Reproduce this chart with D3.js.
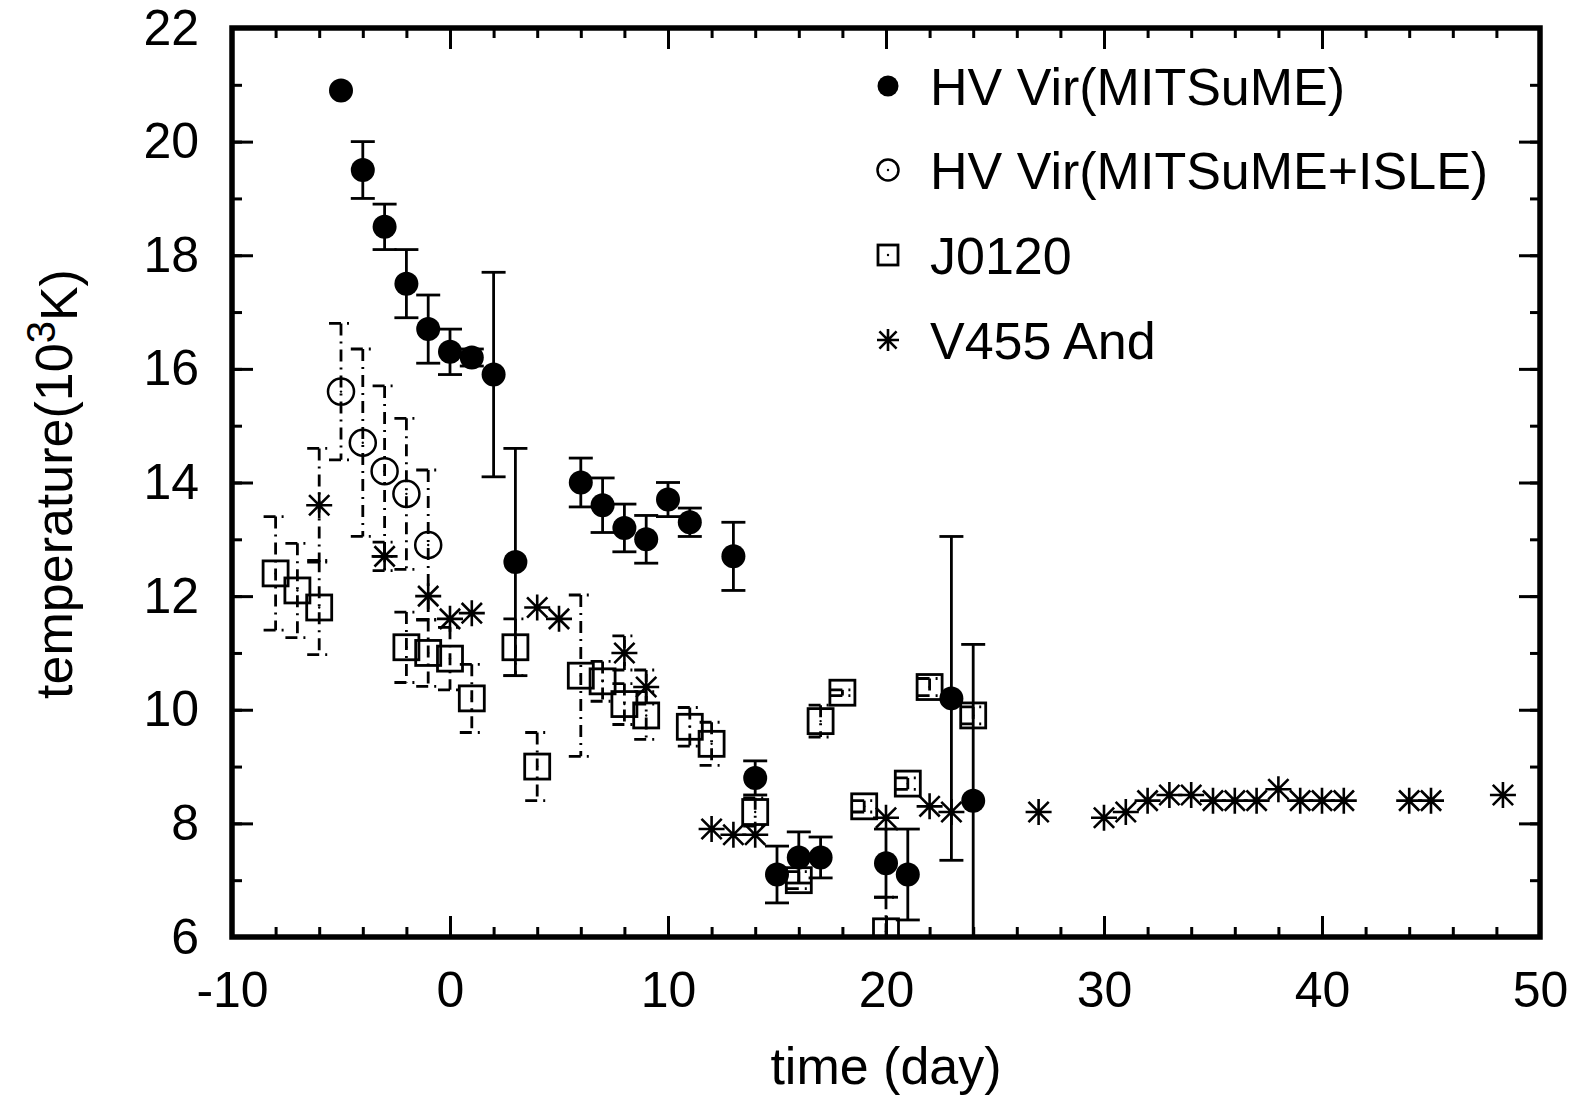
<!DOCTYPE html>
<html>
<head>
<meta charset="utf-8">
<script src="https://cdn.jsdelivr.net/npm/d3@7"></script>
<style>
  html, body { margin: 0; padding: 0; background: #fff; }
  svg { display: block; }
  text { font-family: "Liberation Sans", Arial, Helvetica, sans-serif; fill: #000; }
</style>
</head>
<body>
<svg id="chart" width="1589" height="1098"></svg>
<script>
// HV Vir, MITSuME photometry (filled circles)
const hvDay  = [-5, -4, -3, -2, -1, 0, 1, 2, 3, 6, 7, 8, 9, 10, 11, 13, 14, 15, 16, 17, 20, 21, 23, 24];
const hvTemp = [20.9, 19.5, 18.5, 17.5, 16.7, 16.3, 16.2, 15.9, 12.6, 14.0, 13.6, 13.2, 13.0, 13.7, 13.3, 12.7, 8.8, 7.1, 7.4, 7.4, 7.3, 7.1, 10.2, 8.4];
const hvErr  = [0, 0.5, 0.4, 0.6, 0.6, 0.4, 0.15, 1.8, 2.0, 0.43, 0.48, 0.42, 0.42, 0.3, 0.25, 0.6, 0.3, 0.5, 0.45, 0.36, 0.6, 0.8, 2.85, 2.75];

// HV Vir, MITSuME + ISLE (open circles)
const isleDay  = [-5, -4, -3, -2, -1];
const isleTemp = [15.6, 14.7, 14.2, 13.8, 12.9];
const isleErr  = [1.2, 1.65, 1.5, 1.33, 1.32];

// J0120 (open squares)
const jDay  = [-8, -7, -6, -2, -1, 0, 1, 3, 4, 6, 7, 8, 9, 11, 12, 14, 16, 17, 18, 19, 20, 21, 22, 24];
const jTemp = [12.4, 12.1, 11.8, 11.1, 11.0, 10.9, 10.2, 11.1, 9.0, 10.6, 10.5, 10.1, 9.9, 9.7, 9.4, 8.2, 7.0, 9.8, 10.3, 8.3, 6.1, 8.7, 10.4, 9.9];
const jErr  = [1.0, 0.83, 0.83, 0.62, 0.59, 0.55, 0.6, 0.5, 0.6, 1.42, 0.35, 0.36, 0.42, 0.34, 0.38, 0.25, 0.15, 0.28, 0.05, 0.1, 0.6, 0.1, 0.15, 0.15];

// V455 And (asterisks)
const vDay  = [-6, -3, -1, 0, 1, 4, 5, 8, 9, 12, 13, 14, 20, 22, 23, 27, 30, 31, 32, 33, 34, 35, 36, 37, 38, 39, 40, 41, 44, 45, 48.3];
const vTemp = [13.6, 12.7, 12.0, 11.6, 11.7, 11.8, 11.6, 11.0, 10.4, 7.9, 7.8, 7.8, 8.1, 8.3, 8.2, 8.2, 8.1, 8.2, 8.4, 8.5, 8.5, 8.4, 8.4, 8.4, 8.6, 8.4, 8.4, 8.4, 8.4, 8.4, 8.5];
const vErr  = [1.0, 0.25, 0, 0, 0, 0, 0, 0.3, 0.3, 0, 0, 0, 0, 0, 0, 0, 0, 0, 0, 0, 0, 0, 0, 0, 0, 0, 0, 0, 0, 0, 0];

// Axis ticks and labels
const xMajor = [-10, 0, 10, 20, 30, 40, 50];
const xMinor = d3.range(-10, 51, 2);
const yMajor = [6, 8, 10, 12, 14, 16, 18, 20, 22];
const yMinor = d3.range(6, 23, 1);
const xTitle = "time (day)";
const legendNames = ["HV Vir(MITSuME)", "HV Vir(MITSuME+ISLE)", "J0120", "V455 And"];

const svg = d3.select("#chart");
const L = 232, R = 1540, T = 28, B = 937;
const x = d3.scaleLinear().domain([-10, 50]).range([L, R]);
const y = d3.scaleLinear().domain([6, 22]).range([B, T]);

svg.append("defs").append("clipPath").attr("id", "plotClip")
  .append("rect").attr("x", L).attr("y", T).attr("width", R - L).attr("height", B - T);

const zip = (d, t, e) => d.map((v, i) => ({ x: v, y: t[i], e: e[i] }));
const hv = zip(hvDay, hvTemp, hvErr);
const isle = zip(isleDay, isleTemp, isleErr);
const j0120 = zip(jDay, jTemp, jErr);
const v455 = zip(vDay, vTemp, vErr);

// ---- axes (ticks on all four sides, pointing inward) ----
function styleAxis(g) {
  g.select(".domain").remove();
  g.selectAll(".tick line").attr("stroke", "#000").attr("stroke-width", 3);
  g.selectAll(".tick text").style("font-size", "50px").attr("fill", "#000");
}
const fmt = v => String(v);   // plain hyphen-minus for negative labels
svg.append("g").attr("transform", `translate(0,${B})`)
  .call(d3.axisBottom(x).tickValues(xMinor).tickSize(-10).tickFormat(""))
  .call(styleAxis);
svg.append("g").attr("transform", `translate(0,${B})`)
  .call(d3.axisBottom(x).tickValues(xMajor).tickSize(-21).tickPadding(34).tickFormat(fmt))
  .call(styleAxis);
svg.append("g").attr("transform", `translate(0,${T})`)
  .call(d3.axisTop(x).tickValues(xMinor).tickSize(-10).tickFormat(""))
  .call(styleAxis);
svg.append("g").attr("transform", `translate(0,${T})`)
  .call(d3.axisTop(x).tickValues(xMajor).tickSize(-21).tickFormat(""))
  .call(styleAxis);
svg.append("g").attr("transform", `translate(${L},0)`)
  .call(d3.axisLeft(y).tickValues(yMinor).tickSize(-10).tickFormat(""))
  .call(styleAxis);
svg.append("g").attr("transform", `translate(${L},0)`)
  .call(d3.axisLeft(y).tickValues(yMajor).tickSize(-21).tickPadding(33).tickFormat(fmt))
  .call(styleAxis);
svg.append("g").attr("transform", `translate(${R},0)`)
  .call(d3.axisRight(y).tickValues(yMinor).tickSize(-10).tickFormat(""))
  .call(styleAxis);
svg.append("g").attr("transform", `translate(${R},0)`)
  .call(d3.axisRight(y).tickValues(yMajor).tickSize(-21).tickFormat(""))
  .call(styleAxis);

// ---- error bars ----
const plot = svg.append("g").attr("clip-path", "url(#plotClip)");
function errorBars(data, dashed) {
  const g = plot.append("g").attr("stroke", "#000").attr("stroke-width", 2.8).attr("fill", "none");
  if (dashed) g.attr("stroke-dasharray", "12,6,2,6");
  const pts = data.filter(d => d.e > 0);
  const cap = 12;
  g.selectAll(".v").data(pts).join("line")
    .attr("x1", d => x(d.x)).attr("x2", d => x(d.x))
    .attr("y1", d => y(d.y + d.e)).attr("y2", d => y(d.y - d.e));
  g.selectAll(".t").data(pts).join("line")
    .attr("x1", d => x(d.x) - cap).attr("x2", d => x(d.x) + cap)
    .attr("y1", d => y(d.y + d.e)).attr("y2", d => y(d.y + d.e));
  g.selectAll(".b").data(pts).join("line")
    .attr("x1", d => x(d.x) - cap).attr("x2", d => x(d.x) + cap)
    .attr("y1", d => y(d.y - d.e)).attr("y2", d => y(d.y - d.e));
}

// ---- point symbols ----
function filledCircle(g, cx, cy, r) {
  g.append("circle").attr("cx", cx).attr("cy", cy).attr("r", r).attr("fill", "#000");
}
function openCircle(g, cx, cy, r) {
  g.append("circle").attr("cx", cx).attr("cy", cy).attr("r", r)
    .attr("fill", "none").attr("stroke", "#000").attr("stroke-width", 2.5);
  g.append("circle").attr("cx", cx).attr("cy", cy).attr("r", 1.2).attr("fill", "#000");
}
function openSquare(g, cx, cy, s) {
  g.append("rect").attr("x", cx - s).attr("y", cy - s).attr("width", 2 * s).attr("height", 2 * s)
    .attr("fill", "none").attr("stroke", "#000").attr("stroke-width", 2.8);
  g.append("circle").attr("cx", cx).attr("cy", cy).attr("r", 1.2).attr("fill", "#000");
}
function asterisk(g, cx, cy, s) {
  const d = s * 0.78;
  const p = `M${cx - s},${cy}H${cx + s}M${cx},${cy - s}V${cy + s}` +
            `M${cx - d},${cy - d}L${cx + d},${cy + d}M${cx - d},${cy + d}L${cx + d},${cy - d}`;
  g.append("path").attr("d", p).attr("stroke", "#000").attr("stroke-width", 2.6).attr("fill", "none");
}

function series(data, dashed, draw, size) {
  errorBars(data, dashed);
  const g = plot.append("g");
  data.forEach(d => draw(g, x(d.x), y(d.y), size));
}
series(hv, false, filledCircle, 12);
series(isle, true, openCircle, 13);
series(j0120, true, openSquare, 12.5);
series(v455, true, asterisk, 13);

// ---- frame ----
svg.append("rect").attr("x", L).attr("y", T).attr("width", R - L).attr("height", B - T)
  .attr("fill", "none").attr("stroke", "#000").attr("stroke-width", 5.5);

// ---- legend ----
const legY = [86, 170, 255, 340];
const legDraw = [filledCircle, openCircle, openSquare, asterisk];
const legSize = [10.5, 10.5, 10, 11];
const leg = svg.append("g");
legendNames.forEach((name, i) => {
  legDraw[i](leg, 888, legY[i], legSize[i]);
  leg.append("text").attr("x", 930).attr("y", legY[i]).attr("dy", "0.36em")
    .style("font-size", "52px").text(name);
});

// ---- axis titles ----
svg.append("text").attr("x", (L + R) / 2).attr("y", 1084).attr("text-anchor", "middle")
  .style("font-size", "52px").text(xTitle);

const yt = svg.append("text").attr("transform", "translate(72,484) rotate(-90)")
  .attr("text-anchor", "middle").style("font-size", "52px");
yt.append("tspan").text("temperature(10");
yt.append("tspan").attr("dy", "-0.42em").style("font-size", "40px").text("3");
yt.append("tspan").attr("dy", "0.42em").text("K)");
</script>
</body>
</html>
